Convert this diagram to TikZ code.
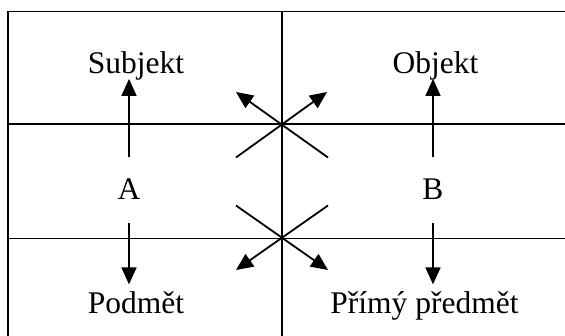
\documentclass[tikz,border=0pt]{standalone}
\usepackage{fontspec}
\setmainfont{Liberation Serif}
\usetikzlibrary{arrows.meta,positioning}

\begin{document}
\begin{tikzpicture}[
  x=1pt, y=-1pt,
  word/.style={anchor=base, inner sep=0pt, font=\fontsize{31.5}{36}\selectfont},
  rule/.style={line width=1.5pt},
  arr/.style={-{Triangle[length=17pt, width=15pt]}, line width=1.8pt}
]
  \useasboundingbox (0,0) rectangle (565,336);
  % frame and dividing lines
  \draw[rule] (565,11.5) -- (8,11.5) -- (8,336);
  \draw[rule] (282,11.5) -- (282,336);
  \draw[rule] (8,124) -- (565,124);
  \draw[rule] (8,238.5) -- (565,238.5);
  \coordinate (top) at (282,124);
  \coordinate (bot) at (282,238.5);

  \node[word] (a)    at (129,200)   {A};
  \node[word] (b)    at (433,200)   {B};
  \node[word] (subj) at (136,74)    {Subjekt};
  \node[word] (obj)  at (435.5,74)  {Objekt};
  \node[word] (podm) at (136,313.5) {Podmět};
  \node[word] (prim) at (424.5,313.5) {Přímý předmět};

  \draw[arr] ([yshift=22pt]a.north) -- ([yshift=2pt]a.north |- subj.south);
  \draw[arr] ([yshift=22pt]b.north) -- ([yshift=2pt]b.north |- obj.south);
  \draw[arr] ([yshift=-23pt]a.south) -- ([yshift=7pt]a.south |- podm.north);
  \draw[arr] ([yshift=-23pt]b.south) -- ([yshift=7pt]b.south |- prim.north);

  % crossing arrows
  \coordinate (tnw) at ([shift={(-46,-32)}]top);
  \coordinate (tne) at ([shift={(45,-32)}]top);
  \coordinate (tsw) at ([shift={(-46,33.5)}]top);
  \coordinate (tse) at ([shift={(46,33.5)}]top);
  \coordinate (bnw) at ([shift={(-46,-33)}]bot);
  \coordinate (bne) at ([shift={(46,-33)}]bot);
  \coordinate (bsw) at ([shift={(-46,31.5)}]bot);
  \coordinate (bse) at ([shift={(46,31.5)}]bot);
  \draw[arr] (tse) -- (tnw);
  \draw[arr] (tsw) -- (tne);
  \draw[arr] (bne) -- (bsw);
  \draw[arr] (bnw) -- (bse);
\end{tikzpicture}
\end{document}
